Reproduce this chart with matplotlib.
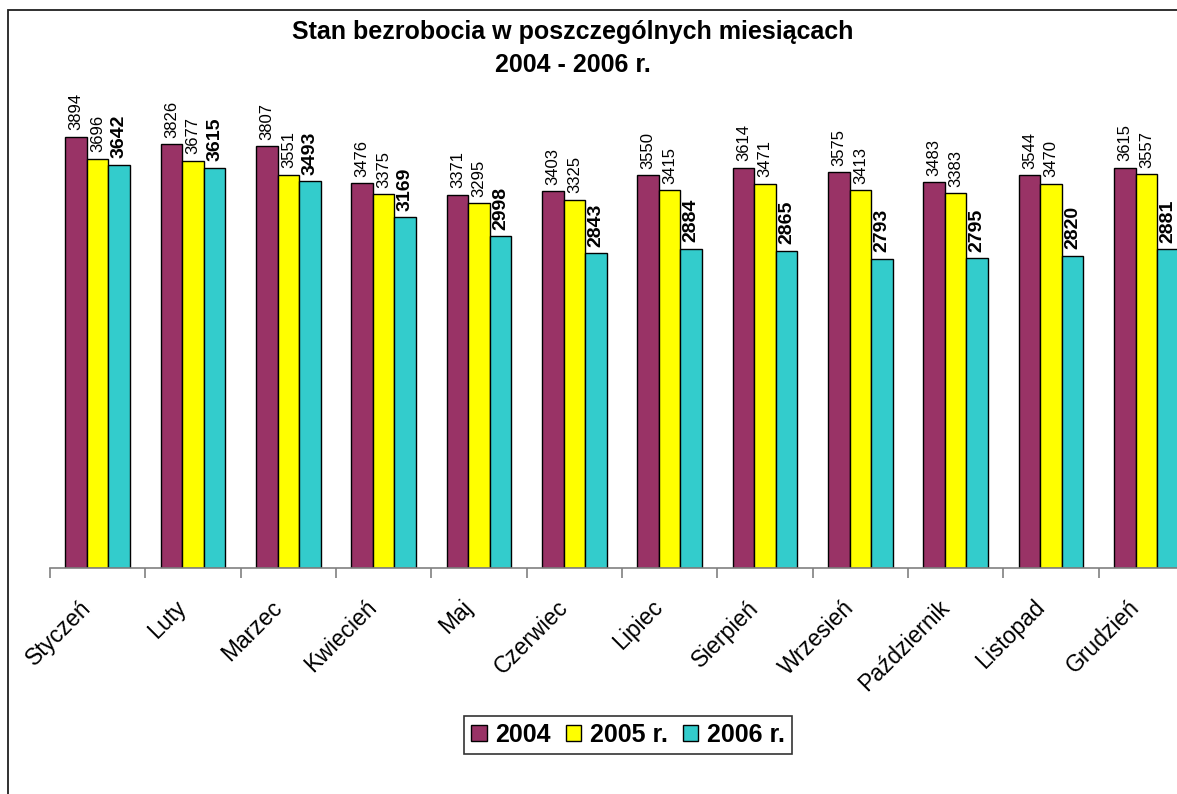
import matplotlib
matplotlib.use("Agg")
import matplotlib.pyplot as plt
import matplotlib.transforms as mtrans
import numpy as np
from matplotlib.patches import Rectangle

plt.rcParams['font.family'] = ['Liberation Sans', 'DejaVu Sans']

months = ["Styczeń", "Luty", "Marzec", "Kwiecień", "Maj", "Czerwiec", "Lipiec",
          "Sierpień", "Wrzesień", "Październik", "Listopad", "Grudzień"]
v2004 = [3894, 3826, 3807, 3476, 3371, 3403, 3550, 3614, 3575, 3483, 3544, 3615]
v2005 = [3696, 3677, 3551, 3375, 3295, 3325, 3415, 3471, 3413, 3383, 3470, 3557]
v2006 = [3642, 3615, 3493, 3169, 2998, 2843, 2884, 2865, 2793, 2795, 2820, 2881]
series_labels = ["2004", "2005 r.", "2006 r."]
colors = ["#993366", "#FFFF00", "#33CCCC"]

W, H = 1177, 794
fig = plt.figure(figsize=(W/100, H/100), dpi=100)

# figure border (left & top visible, rest cropped)
fig.patches.append(Rectangle((8/W, -0.1), 1.2, (H-10)/H + 0.1, transform=fig.transFigure,
                             fill=False, edgecolor='#202020', lw=1.3))

ymax = 4600
scale = 0.11076
ax_h = ymax*scale
ax = fig.add_axes([50/W, (H-568)/H, 1144/W, ax_h/H])
x = np.arange(len(months))
w = 0.226
for i, (vals, c) in enumerate(zip([v2004, v2005, v2006], colors)):
    xs = x + (i-1)*w
    ax.bar(xs, vals, width=w, color=c, edgecolor='black', linewidth=1.0, label=series_labels[i])
    for xx, v in zip(xs, vals):
        ax.annotate(str(v), (xx, v), xytext=(0, 4.5), textcoords='offset points',
                    rotation=90, ha='center', va='bottom',
                    fontsize=14 if i == 2 else 12,
                    fontweight='bold' if i == 2 else 'normal')

ax.set_xlim(-0.5, len(months)-0.5)
ax.set_ylim(0, ymax)
for s in ['top', 'right', 'left']:
    ax.spines[s].set_visible(False)
ax.spines['bottom'].set_color('#808080')
ax.spines['bottom'].set_linewidth(1.2)
ax.set_yticks([])
ax.set_xticks(x)
ax.set_xticklabels(months, rotation=45, ha='right', va='center', rotation_mode='anchor',
                   fontsize=16.5)
ax.tick_params(axis='x', which='major', length=0, pad=26)
ax.set_xticks(np.arange(-0.5, len(months)), minor=True)
ax.tick_params(axis='x', which='minor', length=7, width=1.2, color='#808080', direction='out')
off = mtrans.ScaledTranslation(-10/100, 0, fig.dpi_scale_trans)
for lab in ax.get_xticklabels():
    lab.set_transform(lab.get_transform() + off)

fig.text(573/W, 1-32/H, "Stan bezrobocia w poszczególnych miesiącach", ha='center', va='center',
         fontsize=18, fontweight='bold')
fig.text(573/W, 1-65/H, "2004 - 2006 r.", ha='center', va='center',
         fontsize=18, fontweight='bold')

leg = fig.legend(loc='center', bbox_to_anchor=(628/W, 1-735/H), ncol=3, frameon=True,
                 fancybox=False, edgecolor='black', prop={'weight': 'bold', 'size': 18},
                 handlelength=0.62, handleheight=0.62, handletextpad=0.34, columnspacing=0.6,
                 borderpad=0.28, borderaxespad=0)
leg.get_frame().set_linewidth(1.2)

fig.savefig("out.png", dpi=100)
